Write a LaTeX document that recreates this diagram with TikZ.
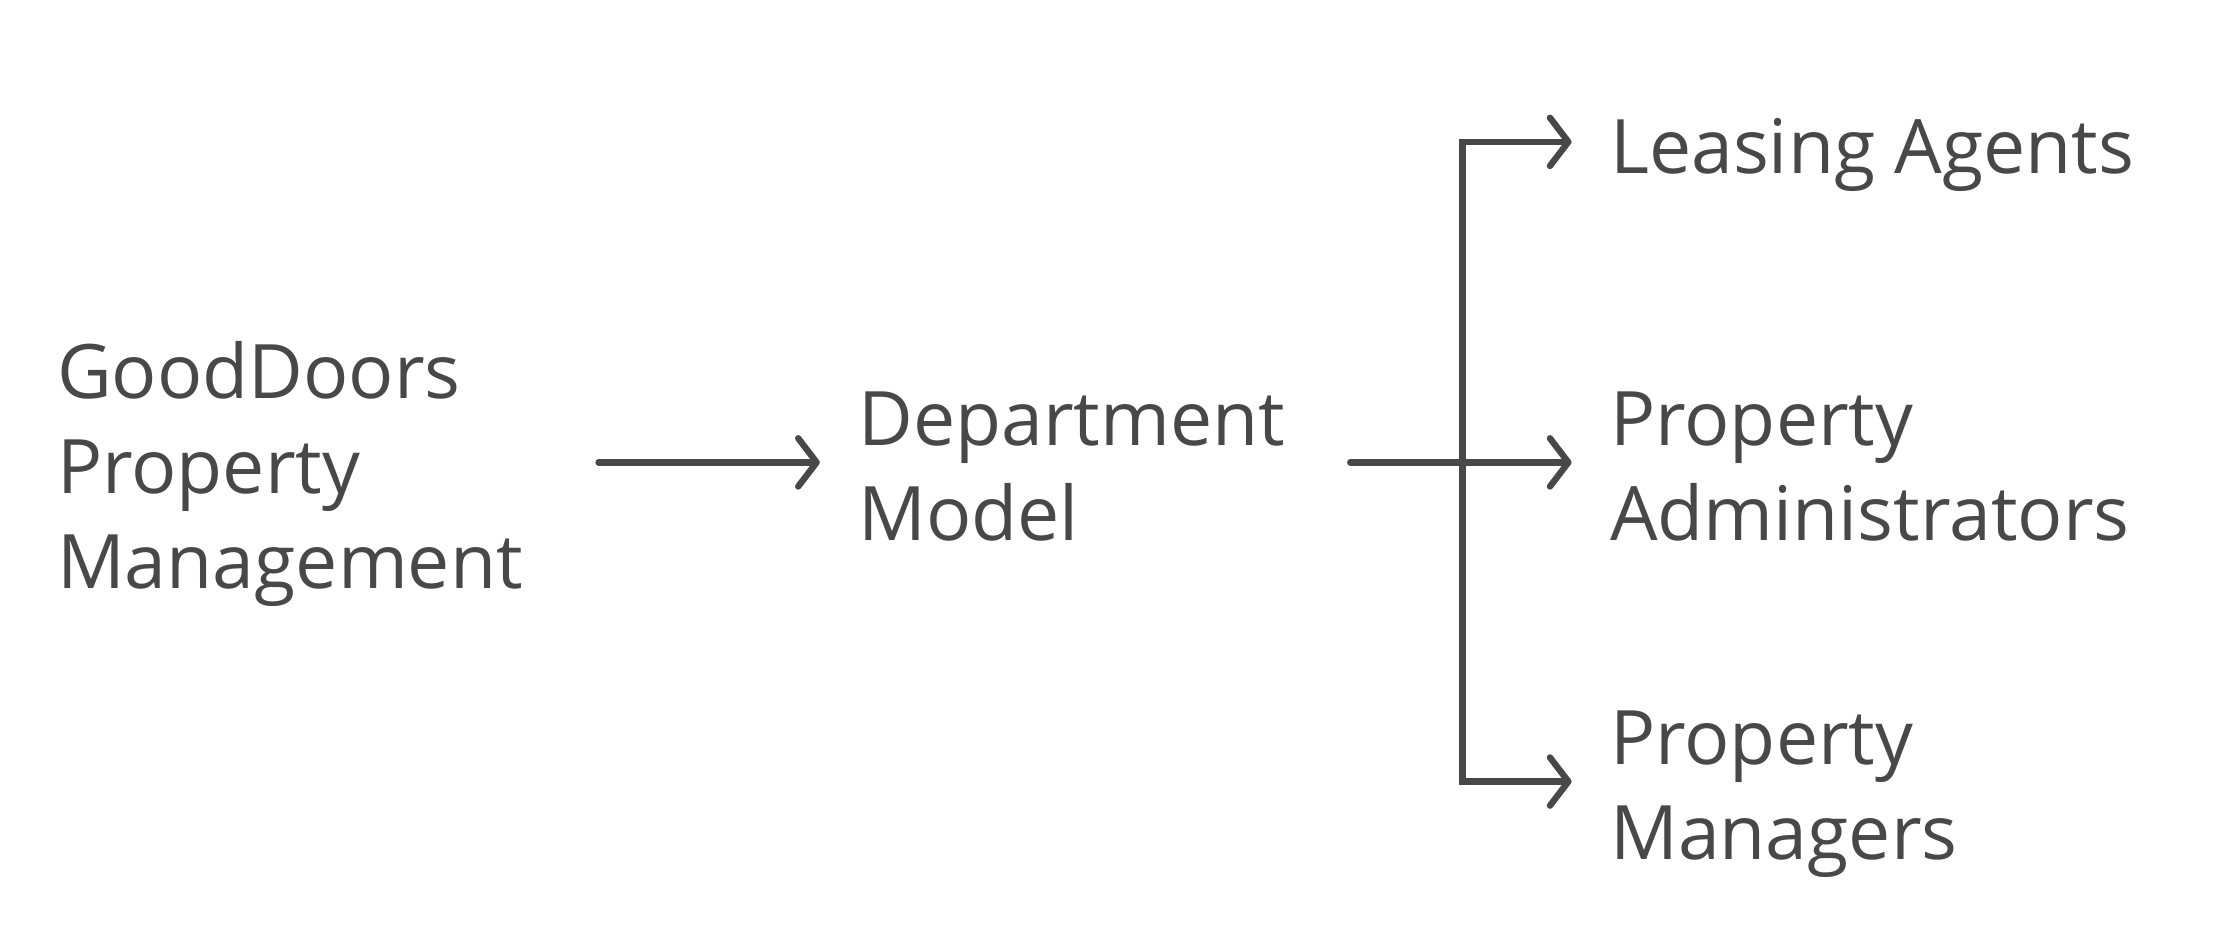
\documentclass[tikz,border=0pt]{standalone}
\usepackage{fontspec}
\setmainfont{Open Sans}
\usetikzlibrary{arrows.meta}
\definecolor{ink}{HTML}{484848}
\begin{document}
\begin{tikzpicture}[x=1pt,y=-1pt,
  lbl/.style={inner sep=0pt,anchor=base west,align=left,text=ink,font=\fontsize{53}{67}\selectfont},
  conn/.style={draw=ink,line width=4.5pt,line cap=round,-{Straight Barb[length=13pt,width=34pt,line width=4.5pt,round]}}]
\useasboundingbox (0,0) rectangle (1568,654);
\node[lbl] (gd) at (40,415) {GoodDoors\\Property\\Management};
\node[lbl] (dm) at (605,381) {Department\\Model};
\node[lbl] (la) at (1135,122) {Leasing Agents};
\node[lbl] (pa) at (1135,381) {Property\\Administrators};
\node[lbl] (pm) at (1135,606) {Property\\Managers};
\coordinate (a1) at (422,326);
\coordinate (a2) at (578,326);
\coordinate (b1) at (952,326);
\coordinate (j) at (1031,326);
\coordinate (tLA) at (1108,100);
\coordinate (tPA) at (1108,326);
\coordinate (tPM) at (1108,551);
\draw[conn] (a1) -- (a2);
\draw[conn] (b1) -- (tPA);
\draw[conn] (j) |- (tLA);
\draw[conn] (j) |- (tPM);
\end{tikzpicture}
\end{document}
